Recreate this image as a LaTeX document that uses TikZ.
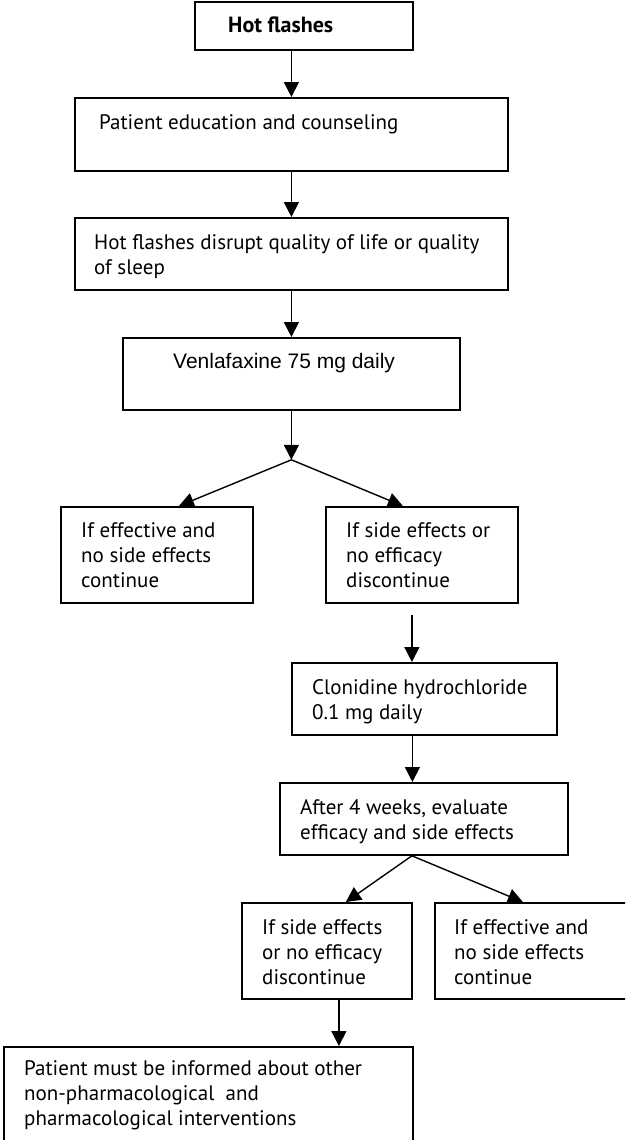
\documentclass[tikz,border=0pt]{standalone}
\usepackage{fontspec}
\setmainfont{PT Sans}
\newfontfamily\arialfont{Liberation Sans}
\usetikzlibrary{arrows.meta}
\tikzset{
  every picture/.style={line join=miter, >={Triangle[length=15pt,width=15pt]}},
  box/.style={draw, line width=1.8pt, inner sep=0pt, anchor=north west},
  txt/.style={inner sep=0pt, anchor=base west, align=left, font=\fontsize{21}{25}\selectfont},
  arr/.style={->, line width=1.4pt},
}
\begin{document}
\begin{tikzpicture}[x=1pt,y=-1pt]
\useasboundingbox (0,0) rectangle (625,1140);
\clip (0,0) rectangle (625,1140);
\node[box, minimum width=218pt, minimum height=48pt] (hot) at (194,1) {};
\node[box, minimum width=433pt, minimum height=73pt] (edu) at (74,97) {};
\node[box, minimum width=433pt, minimum height=72pt] (dis) at (74,217) {};
\node[box, minimum width=337pt, minimum height=72pt] (venla) at (122,337) {};
\node[box, minimum width=192pt, minimum height=96pt] (contA) at (60,506) {};
\node[box, minimum width=192pt, minimum height=96pt] (stopA) at (325,506) {};
\node[box, minimum width=265pt, minimum height=72pt] (clon) at (291,662) {};
\node[box, minimum width=288pt, minimum height=72pt] (eval) at (279,782) {};
\node[box, minimum width=170pt, minimum height=96pt] (stopB) at (241,902) {};
\node[box, minimum width=206pt, minimum height=96pt] (contB) at (434,902) {};
\node[box, minimum width=409pt, minimum height=110pt] (inform) at (3,1046) {};
\node[txt, font=\fontsize{22}{25}\selectfont\bfseries] (hotT) at (228,33) {Hot flashes};
\node[txt] (eduT) at (99,129) {Patient education and counseling};
\node[txt] (disT) at (94,274) {Hot flashes disrupt quality of life or quality\\of sleep};
\node[txt, font=\fontsize{21}{25}\arialfont] (venlaT) at (173,368) {Venlafaxine 75 mg daily};
\node[txt] (contAT) at (81,587) {If effective and\\no side effects\\continue};
\node[txt] (stopAT) at (346,587) {If side effects or\\no efficacy\\discontinue};
\node[txt] (clonT) at (312,719) {Clonidine hydrochloride\\0.1 mg daily};
\node[txt] (evalT) at (300,839) {After 4 weeks, evaluate\\efficacy and side effects};
\node[txt] (stopBT) at (262,984) {If side effects\\or no efficacy\\discontinue};
\node[txt] (contBT) at (454,984) {If effective and\\no side effects\\continue};
\node[txt] (informT) at (24,1125) {Patient must be informed about other\\non-pharmacological\ \ and\\pharmacological interventions};
\coordinate (vbr) at ([yshift=-49pt]venla.south);
\coordinate (ebr) at ([xshift=-12pt]eval.south);
\draw[arr] (hot.south -| edu.north) -- (edu.north);
\draw[arr] (edu.south) -- (dis.north);
\draw[arr] (dis.south) -- (venla.north);
\draw[arr] (venla.south) -- (vbr);
\draw[arr] (vbr) -- ([xshift=22pt]contA.north);
\draw[arr] (vbr) -- ([xshift=-19pt]stopA.north);
\draw[arr] ([xshift=-10pt,yshift=-11pt]stopA.south) -- ([xshift=-12.5pt]clon.north);
\draw[arr] ([xshift=-12pt]clon.south) -- ([xshift=-12pt]clon.south |- eval.north);
\draw[arr] (ebr) -- ([xshift=19pt]stopB.north);
\draw[arr] (ebr) -- ([xshift=-15pt]contB.north);
\draw[arr] ([xshift=12pt]stopB.south) -- ([xshift=12pt]stopB.south |- inform.north);
\end{tikzpicture}
\end{document}
